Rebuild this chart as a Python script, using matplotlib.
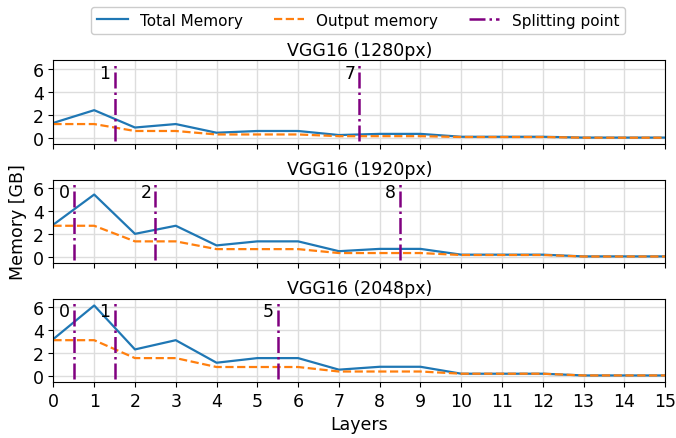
import matplotlib
matplotlib.use("Agg")
import matplotlib.pyplot as plt
import numpy as np

layers = list(range(16))

titles = ["VGG16 (1280px)", "VGG16 (1920px)", "VGG16 (2048px)"]

total_1280 = [1.3, 2.4, 0.9, 1.2, 0.45, 0.6, 0.6, 0.25, 0.35, 0.35, 0.1, 0.1, 0.1, 0.03, 0.03, 0.03]
output_1280 = [1.2, 1.2, 0.6, 0.6, 0.3, 0.3, 0.3, 0.15, 0.15, 0.15, 0.08, 0.08, 0.08, 0.02, 0.02, 0.02]

total_1920 = [2.8, 5.4, 2.0, 2.7, 1.0, 1.35, 1.35, 0.5, 0.7, 0.7, 0.2, 0.2, 0.2, 0.05, 0.05, 0.05]
output_1920 = [2.7, 2.7, 1.35, 1.35, 0.68, 0.68, 0.68, 0.34, 0.34, 0.34, 0.17, 0.17, 0.17, 0.04, 0.04, 0.04]

total_2048 = [3.2, 6.1, 2.3, 3.1, 1.15, 1.55, 1.55, 0.55, 0.8, 0.8, 0.2, 0.2, 0.2, 0.05, 0.05, 0.05]
output_2048 = [3.1, 3.1, 1.55, 1.55, 0.78, 0.78, 0.78, 0.39, 0.39, 0.39, 0.2, 0.2, 0.2, 0.05, 0.05, 0.05]

splits_1280 = [1, 7]
splits_1920 = [0, 2, 8]
splits_2048 = [0, 1, 5]

totals = [total_1280, total_1920, total_2048]
outputs = [output_1280, output_1920, output_2048]
splits = [splits_1280, splits_1920, splits_2048]

plt.rcParams['font.family'] = ['DejaVu Sans']
plt.rcParams['font.size'] = 12.5

fig, axes = plt.subplots(3, 1, sharex=True, figsize=(6.76, 4.39), dpi=100)

for ax, title, tot, out, sp in zip(axes, titles, totals, outputs, splits):
    ax.grid(True, color='#dddddd', linewidth=1)
    ax.set_axisbelow(True)
    l1, = ax.plot(layers, tot, color='#1f77b4', linewidth=1.6, label='Total Memory')
    l2, = ax.plot(layers, out, color='#ff7f0e', linestyle='--', linewidth=1.6, label='Output memory')
    for s in sp:
        l3 = ax.vlines(s + 0.5, -0.3, 6.5, colors='purple', linestyles='-.', linewidth=1.8, label='Splitting point')
        ax.text(s + 0.4, 5.6, str(s), ha='right', va='center', fontsize=12.5)
    ax.set_title(title, fontsize=12.5, pad=4)
    ax.set_ylim(-0.5, 6.7)
    ax.set_yticks([0, 2, 4, 6])
    ax.set_xlim(0, 15)
    ax.set_xticks(layers)

axes[1].set_ylabel("Memory [GB]")
axes[2].set_xlabel("Layers")

fig.legend(handles=[l1, l2, l3], labels=['Total Memory', 'Output memory', 'Splitting point'],
           loc='upper center', ncol=3, bbox_to_anchor=(0.53, 1.0), fontsize=11, framealpha=1)

fig.subplots_adjust(left=0.079, right=0.984, top=0.86, bottom=0.128, hspace=0.43)
fig.savefig("out.png", dpi=100)
